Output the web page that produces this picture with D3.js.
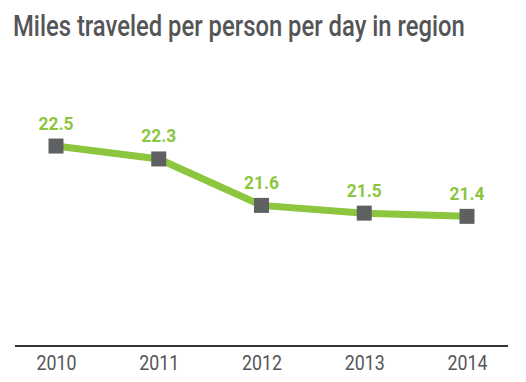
<!DOCTYPE html>
<html>
<head>
<meta charset="utf-8">
<script src="https://cdn.jsdelivr.net/npm/d3@7"></script>
<style>
  html, body { margin: 0; padding: 0; background: #fff; }
  svg { display: block; }
  .cond { font-family: "Roboto", "Liberation Sans", sans-serif; }
</style>
</head>
<body>
<svg id="chart" width="526" height="382"></svg>
<script>
const title = "Miles traveled per person per day in region";
const years = ["2010", "2011", "2012", "2013", "2014"];
const miles = [22.5, 22.3, 21.58, 21.46, 21.41];

const svg = d3.select("#chart");

const x = d3.scalePoint().domain(years).range([56, 467]);
const y = d3.scaleLinear().domain([19.4, 23]).range([346, 113.8]);

const green = "#8cc63f";
const gray = "#5f6062";
const textGray = "#545557";

// squeeze a text horizontally to a target width (condensed look)
function condense(node, px, py, targetW, anchor) {
  const w = node.getComputedTextLength();
  const sx = Math.min(1, targetW / w);
  d3.select(node)
    .attr("x", 0).attr("y", 0)
    .attr("text-anchor", anchor)
    .attr("transform", `translate(${px},${py}) scale(${sx},1)`);
}

const t = svg.append("text")
  .attr("class", "cond")
  .attr("fill", textGray)
  .style("font-size", "29px")
  .style("font-weight", 500)
  .text(title);
condense(t.node(), 13, 36, 452, "start");

// axis
const xAxis = d3.axisBottom(x).tickSize(0);
const gx = svg.append("g").attr("transform", "translate(0,346)").call(xAxis);
gx.select(".domain").remove();
gx.append("line").attr("x1", 15).attr("x2", 508).attr("y1", 0).attr("y2", 0)
  .attr("stroke", "#333").attr("stroke-width", 2);
gx.selectAll(".tick text")
  .attr("class", "cond")
  .attr("fill", textGray)
  .attr("dy", 0)
  .style("font-size", "20px")
  .style("font-weight", 400)
  .each(function () { condense(this, 0, 24, 40, "middle"); });

const data = years.map((yr, i) => ({ yr, v: miles[i] }));

svg.append("path")
  .datum(data)
  .attr("fill", "none")
  .attr("stroke", green)
  .attr("stroke-width", 7)
  .attr("d", d3.line().x(d => x(d.yr)).y(d => y(d.v)));

const s = 15;
svg.selectAll("rect.pt").data(data).join("rect")
  .attr("class", "pt")
  .attr("x", d => x(d.yr) - s / 2)
  .attr("y", d => y(d.v) - s / 2)
  .attr("width", s).attr("height", s)
  .attr("fill", gray);

svg.selectAll("text.lbl").data(data).join("text")
  .attr("class", "lbl cond")
  .attr("fill", green)
  .style("font-size", "18.5px")
  .style("font-weight", "bold")
  .text(d => d3.format(".1f")(d.v))
  .each(function (d) { condense(this, x(d.yr), y(d.v) - 16.5, 35, "middle"); });
</script>
</body>
</html>
